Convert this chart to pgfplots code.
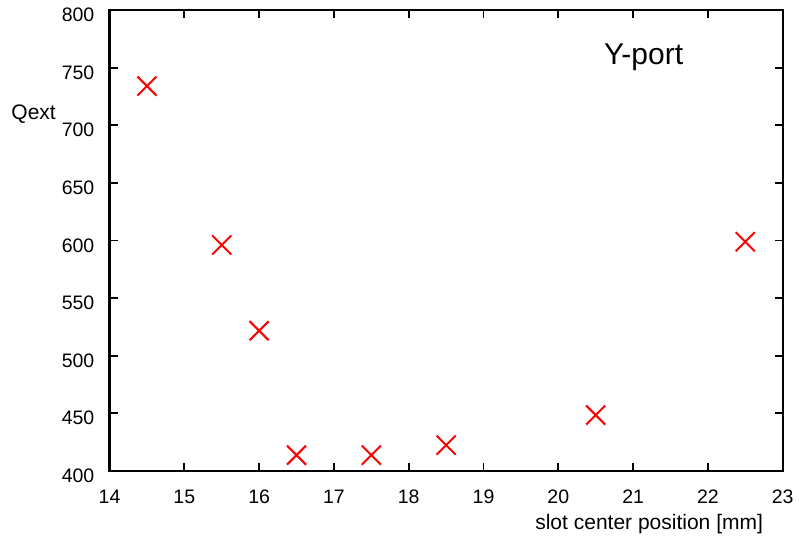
\documentclass[border=0pt]{standalone}
\usepackage{fontspec}
\setmainfont{Liberation Sans}
\usepackage{pgfplots}
\pgfplotsset{compat=1.18}

\begin{document}
\begin{tikzpicture}
% fixed canvas around the axis box (axis box lower-left corner sits at the origin)
\path[use as bounding box] (-109.5pt,-67.3pt) rectangle (689.3pt,470.7pt);
\begin{axis}[
  scale only axis,
  width=673pt, height=460.7pt,
  xmin=14, xmax=23, ymin=400, ymax=800,
  xtick={14,15,...,23},
  ytick={400,450,...,800},
  minor tick num=0,
  tick align=inside,
  major tick length=8pt,
  every outer x axis line/.append style={line width=2.2pt},
  every outer y axis line/.append style={line width=2.2pt},
  axis line style={line width=2.2pt},
  every tick/.style={black, line width=1.8pt},
  /pgf/number format/assume math mode=true,
  /pgf/number format/1000 sep={},
  xticklabel style={inner sep=0pt, anchor=north, yshift=-19pt,
    font=\fontsize{19.5}{19.5}\selectfont},
  yticklabel style={inner sep=0pt, anchor=east, xshift=-15pt, yshift=-5pt,
    font=\fontsize{19.5}{19.5}\selectfont},
  clip=false,
]
\addplot[only marks, mark=x, mark size=13.5pt, color=red,
  mark options={line width=2pt}] coordinates {
  (14.5,734) (15.5,596) (16,521.6) (16.5,413.6)
  (17.5,413.6) (18.5,422.3) (20.5,448.4) (22.5,598.8)
};
\node[anchor=base west, inner sep=0pt, font=\fontsize{21}{21}\selectfont]
  at (rel axis cs:-0.146,0.762) {Qext};
\node[anchor=base east, inner sep=0pt, font=\fontsize{21}{21}\selectfont]
  at (rel axis cs:0.9710,-0.1275) {slot center position [mm]};
\node[anchor=base west, inner sep=0pt, font=\fontsize{30}{30}\selectfont]
  at (rel axis cs:0.7345,0.881) {Y-port};
\end{axis}
\end{tikzpicture}
\end{document}
